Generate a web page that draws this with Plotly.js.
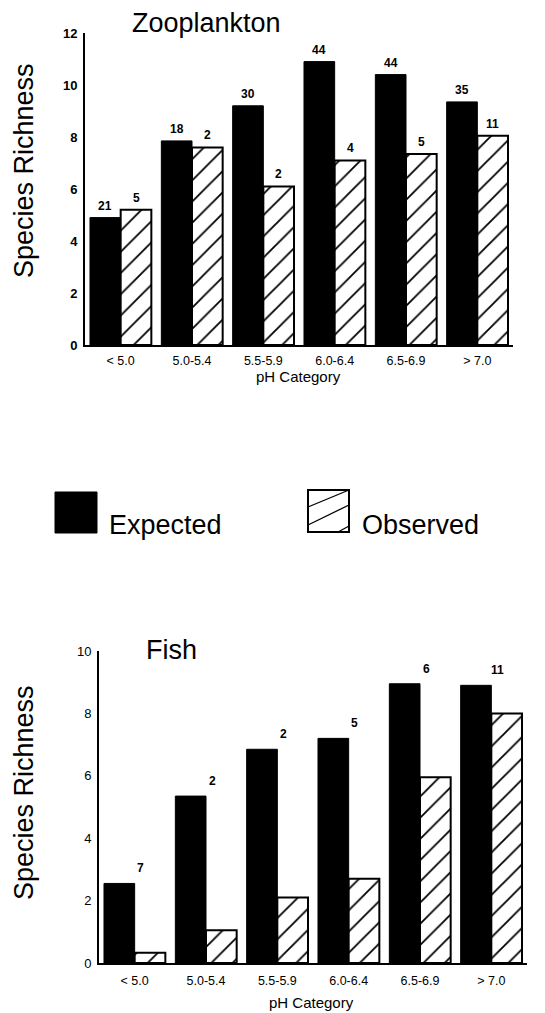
<!DOCTYPE html>
<html>
<head>
<meta charset="utf-8">
<script src="https://cdn.plot.ly/plotly-3.0.1.min.js"></script>
<style>html,body{margin:0;padding:0;background:#fff;}#chart{width:545px;height:1013px;}</style>
</head>
<body>
<div id="chart"></div>
<script>
// ---- Data ----
const categories = ["< 5.0", "5.0-5.4", "5.5-5.9", "6.0-6.4", "6.5-6.9", "> 7.0"];
const zooExpected = [4.9, 7.85, 9.2, 10.9, 10.4, 9.35];
const zooObserved = [5.2, 7.6, 6.1, 7.1, 7.35, 8.05];
const zooExpectedN = [21, 18, 30, 44, 44, 35];
const zooObservedN = [5, 2, 2, 4, 5, 11];
const fishExpected = [2.55, 5.35, 6.85, 7.2, 8.95, 8.9];
const fishObserved = [0.33, 1.05, 2.1, 2.7, 5.95, 8.0];
const fishN = [7, 2, 2, 5, 6, 11];
const zooTicks = [0, 2, 4, 6, 8, 10, 12];
const fishTicks = [0, 2, 4, 6, 8, 10];

// ---- Layout helpers ----
const W = 545, H = 1013;
const FONT = "Liberation Sans, Arial, Helvetica, sans-serif";
const px = x => x / W;
const py = y => 1 - y / H;

const hatch = {shape: "/", fgcolor: "black", bgcolor: "white", size: 15, solidity: 0.12};

const traces = [
  {type: "bar", name: "Expected", x: categories, y: zooExpected, xaxis: "x", yaxis: "y",
   marker: {color: "black", line: {color: "black", width: 1}}, showlegend: false, hoverinfo: "x+y"},
  {type: "bar", name: "Observed", x: categories, y: zooObserved, xaxis: "x", yaxis: "y",
   marker: {color: "white", pattern: hatch, line: {color: "black", width: 2}}, showlegend: false, hoverinfo: "x+y"},
  {type: "bar", name: "Expected", x: categories, y: fishExpected, xaxis: "x2", yaxis: "y2",
   marker: {color: "black", line: {color: "black", width: 1}}, showlegend: false, hoverinfo: "x+y"},
  {type: "bar", name: "Observed", x: categories, y: fishObserved, xaxis: "x2", yaxis: "y2",
   marker: {color: "white", pattern: hatch, line: {color: "black", width: 2}}, showlegend: false, hoverinfo: "x+y"}
];

const annotations = [];
const halfBar = 15.4;
categories.forEach((c, i) => {
  annotations.push({x: c, y: zooExpected[i], xref: "x", yref: "y", text: "<b>" + zooExpectedN[i] + "</b>",
    showarrow: false, xshift: -halfBar, yshift: 12, yanchor: "middle", font: {family: FONT, size: 12, color: "black"}});
  annotations.push({x: c, y: zooObserved[i], xref: "x", yref: "y", text: "<b>" + zooObservedN[i] + "</b>",
    showarrow: false, xshift: halfBar, yshift: 12, yanchor: "middle", font: {family: FONT, size: 12, color: "black"}});
  annotations.push({x: c, y: fishExpected[i], xref: "x2", yref: "y2", text: "<b>" + fishN[i] + "</b>",
    showarrow: false, xshift: 6, yshift: 15, yanchor: "middle", font: {family: FONT, size: 12, color: "black"}});
});

const bigFont = {family: FONT, size: 27, color: "black"};
const midFont = {family: FONT, size: 15, color: "black"};
// titles
annotations.push({xref: "paper", yref: "paper", x: px(206), y: py(23), text: "Zooplankton", showarrow: false, font: bigFont, xanchor: "center", yanchor: "middle"});
annotations.push({xref: "paper", yref: "paper", x: px(171), y: py(650), text: "Fish", showarrow: false, font: bigFont, xanchor: "center", yanchor: "middle"});
// y axis titles
annotations.push({xref: "paper", yref: "paper", x: px(24), y: py(171), text: "Species Richness", textangle: -90, showarrow: false, font: bigFont, xanchor: "center", yanchor: "middle"});
annotations.push({xref: "paper", yref: "paper", x: px(24), y: py(793), text: "Species Richness", textangle: -90, showarrow: false, font: bigFont, xanchor: "center", yanchor: "middle"});
// x axis titles
annotations.push({xref: "paper", yref: "paper", x: px(298), y: py(377), text: "pH Category", showarrow: false, font: midFont, xanchor: "center", yanchor: "middle"});
annotations.push({xref: "paper", yref: "paper", x: px(311), y: py(1002), text: "pH Category", showarrow: false, font: midFont, xanchor: "center", yanchor: "middle"});
// legend texts
annotations.push({xref: "paper", yref: "paper", x: px(107), y: py(525), text: "Expected", showarrow: false, font: bigFont, xanchor: "left", yanchor: "middle"});
annotations.push({xref: "paper", yref: "paper", x: px(360), y: py(525), text: "Observed", showarrow: false, font: bigFont, xanchor: "left", yanchor: "middle"});

const shapes = [
  {type: "rect", xref: "paper", yref: "paper", x0: px(55), x1: px(97), y0: py(533), y1: py(492), fillcolor: "black", line: {color: "black", width: 1}},
  {type: "rect", xref: "paper", yref: "paper", x0: px(308), x1: px(349), y0: py(532), y1: py(490), fillcolor: "white", line: {color: "black", width: 2}},
  {type: "line", xref: "paper", yref: "paper", x0: px(308), y0: py(507), x1: px(349), y1: py(490), line: {color: "black", width: 1.3}},
  {type: "line", xref: "paper", yref: "paper", x0: px(308), y0: py(525), x1: px(349), y1: py(505), line: {color: "black", width: 1.3}},
  {type: "line", xref: "paper", yref: "paper", x0: px(338), y0: py(532), x1: px(349), y1: py(526), line: {color: "black", width: 1.3}}
];

const xaxisBase = {
  type: "category", showline: true, linecolor: "black", linewidth: 2, ticks: "", showgrid: false, zeroline: false,
  tickfont: {family: FONT, size: 12.5, color: "black"}, fixedrange: true
};
const yaxisBase = {
  showline: true, linecolor: "black", linewidth: 2, ticks: "", showgrid: false, zeroline: false,
  tickfont: {family: FONT, size: 13, color: "black", weight: "bold"}, fixedrange: true, ticklabelstandoff: 3
};

const layout = {
  width: W, height: H,
  margin: {l: 0, r: 0, t: 0, b: 0},
  paper_bgcolor: "white", plot_bgcolor: "white",
  barmode: "group", bargap: 0.14, bargroupgap: 0,
  showlegend: false,
  xaxis: Object.assign({}, xaxisBase, {domain: [px(85), px(513)], anchor: "y", ticklabelstandoff: 3}),
  yaxis: Object.assign({}, yaxisBase, {domain: [py(345), py(33)], anchor: "x", range: [0, 12], tickvals: zooTicks}),
  xaxis2: Object.assign({}, xaxisBase, {domain: [px(99), px(527)], anchor: "y2", ticklabelstandoff: 5}),
  yaxis2: Object.assign({}, yaxisBase, {domain: [py(963), py(651)], anchor: "x2", range: [0, 10], tickvals: fishTicks,
    tickfont: {family: FONT, size: 13, color: "black"}}),
  annotations: annotations,
  shapes: shapes,
  font: {family: FONT, color: "black"}
};

Plotly.newPlot("chart", traces, layout, {displayModeBar: false, staticPlot: true});
</script>
</body>
</html>
